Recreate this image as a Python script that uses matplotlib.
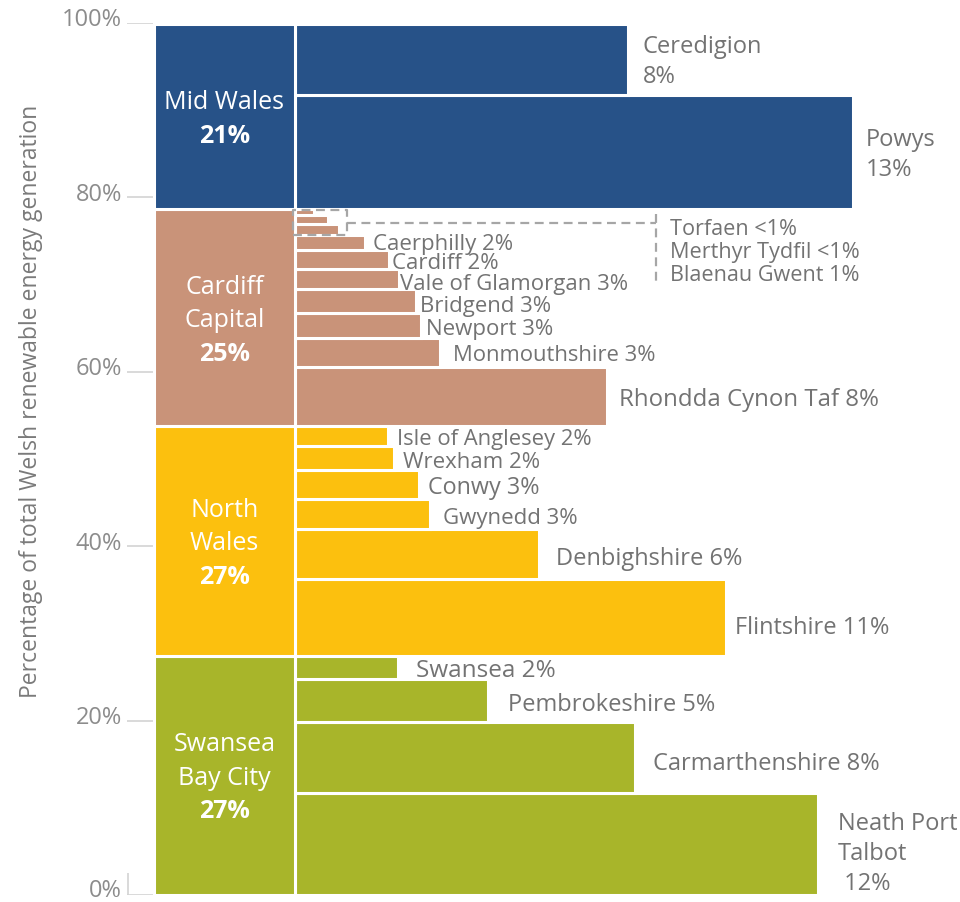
import matplotlib
matplotlib.use("Agg")
import matplotlib.pyplot as plt

plt.rcParams['font.family'] = ['Open Sans', 'DejaVu Sans']

# ---------------- data ----------------
region_names = ["Swansea Bay City", "North Wales", "Cardiff Capital", "Mid Wales"]
region_text_lines = [["Swansea", "Bay City"], ["North", "Wales"], ["Cardiff", "Capital"], ["Mid Wales"]]
region_pct_text = ["27%", "27%", "25%", "21%"]
region_colors = ["#a8b52a", "#fcc00e", "#c99379", "#275288"]

# counties listed bottom -> top within each region
# heights = band height, lengths = bar length
swansea_counties = ["Neath Port Talbot", "Carmarthenshire", "Pembrokeshire", "Swansea"]
swansea_heights = [11.7, 8.1, 4.9, 2.7]
swansea_lengths = [12.36, 8.04, 4.56, 2.43]
swansea_labels = ["Neath Port\nTalbot\n 12%", "Carmarthenshire 8%", "Pembrokeshire 5%", "Swansea 2%"]

north_counties = ["Flintshire", "Denbighshire", "Gwynedd", "Conwy", "Wrexham", "Isle of Anglesey"]
north_heights = [8.8, 5.7, 3.5, 3.3, 2.75, 2.3]
north_lengths = [10.18, 5.77, 3.19, 2.93, 2.35, 2.19]
north_labels = ["Flintshire 11%", "Denbighshire 6%", "Gwynedd 3%", "Conwy 3%", "Wrexham 2%",
                "Isle of Anglesey 2%"]

cardiff_counties = ["Rhondda Cynon Taf", "Monmouthshire", "Newport", "Bridgend", "Vale of Glamorgan",
                    "Cardiff", "Caerphilly", "Blaenau Gwent", "Merthyr Tydfil", "Torfaen"]
cardiff_heights = [6.76, 3.32, 2.87, 2.75, 2.29, 2.23, 1.72, 1.26, 0.97, 0.69]
cardiff_lengths = [7.38, 3.42, 2.99, 2.87, 2.46, 2.22, 1.65, 1.05, 0.78, 0.45]
cardiff_labels = ["Rhondda Cynon Taf 8%", "Monmouthshire 3%", "Newport 3%", "Bridgend 3%",
                  "Vale of Glamorgan 3%", "Cardiff 2%", "Caerphilly 2%", None, None, None]
callout_labels = ["Torfaen <1%", "Merthyr Tydfil <1%", "Blaenau Gwent 1%"]

mid_counties = ["Powys", "Ceredigion"]
mid_heights = [13.1, 8.1]
mid_lengths = [13.2, 7.87]
mid_labels = ["Powys\n13%", "Ceredigion\n8%"]

group_heights = [swansea_heights, north_heights, cardiff_heights, mid_heights]
group_lengths = [swansea_lengths, north_lengths, cardiff_lengths, mid_lengths]
group_labels = [swansea_labels, north_labels, cardiff_labels, mid_labels]

ytick_values = [0, 20, 40, 60, 80, 100]
ytick_labels = ["0%", "20%", "40%", "60%", "80%", "100%"]
y_title = "Percentage of total Welsh renewable energy generation"

# ---------------- layout (pixels of a 960x903 canvas) ----------------
W, H = 960, 903
PX_X = 42.3      # px per 1 % of bar length
PX_Y = 8.725     # px per 1 % of height
X0 = 295         # bar origin px
Y0 = 896         # 0 % px
AX_LEFT = 127
BLOCK_LEFT = 154
label_pad_px = [[20, 18, 20, 18],
                [9, 17, 13, 9, 9, 9],
                [12, 13, 5, 4, 1, 3, 8, 0, 0, 0],
                [12, 15]]
label_down_px = [[9, 5, 3, 2],
                 [9, 4, 3, 3, 3, 2],
                 [2, 2, 3, 4, 4, 3, 1, 0, 0, 0],
                 [2, 2]]
label_fs = [[17, 17, 17, 17.5],
            [17, 17, 16, 16.8, 16, 15.8],
            [17.3, 15.8, 16, 15.9, 16, 16, 16, 0, 0, 0],
            [17, 17]]
tick_up_px = [5, 3, 3, 3, 3, 3]
LINE_PX = 30
TEXT_COLOR = "#737373"
CALLOUT_FS = 15.6


def dx(px):
    return px / PX_X


def dy(px):
    return px / PX_Y


fig = plt.figure(figsize=(W / 100, H / 100), dpi=100)
ax = fig.add_axes([AX_LEFT / W, (H - Y0) / H, (W - AX_LEFT) / W, 100 * PX_Y / H])
xmin = dx(AX_LEFT - X0)
xmax = dx(W - X0)
ax.set_xlim(xmin, xmax)
ax.set_ylim(0, 100)
ax.axis("off")

# tick labels
for v, t, up in zip(ytick_values, ytick_labels, tick_up_px):
    ax.text(xmin - dx(5), v + dy(up), t, ha="right", va="center", fontsize=17,
            color="#8c8c8c", clip_on=False)

# gridlines behind bars
ax.hlines(ytick_values, xmin, dx(318 - X0), color="#d3d3d3", lw=1.2, zorder=0)
ax.vlines(xmin + dx(0.5), 0, dy(22), color="#d3d3d3", lw=1.2, zorder=0)

EDGE_LW = 2.2


def draw_multiline(x, yc, text, color, fs, weight="normal", ha="left", spacing=LINE_PX):
    lines = text.split("\n")
    n = len(lines)
    for i, line in enumerate(lines):
        off = ((n - 1) / 2 - i) * spacing
        ax.text(x, yc + dy(off), line, ha=ha, va="center", fontsize=fs,
                color=color, fontweight=weight, zorder=5)


base = 0.0
callout_rows = []
for gi, (hs, ls, labs) in enumerate(zip(group_heights, group_lengths, group_labels)):
    gstart = base
    color = region_colors[gi]
    for vi, (h, L, lab) in enumerate(zip(hs, ls, labs)):
        ax.bar(0, h, width=L, bottom=base, align="edge", color=color,
               edgecolor="white", linewidth=EDGE_LW, zorder=2)
        if lab is not None:
            draw_multiline(L + dx(label_pad_px[gi][vi]),
                           base + h / 2 - dy(label_down_px[gi][vi]),
                           lab, TEXT_COLOR, label_fs[gi][vi])
        else:
            callout_rows.append((base, h))
        base += h
    gtotal = base - gstart
    # region block
    ax.bar(dx(BLOCK_LEFT - X0), gtotal, width=-dx(BLOCK_LEFT - X0), bottom=gstart, align="edge",
           color=color, edgecolor="white", linewidth=EDGE_LW, zorder=2)
    xc = dx(BLOCK_LEFT - X0) / 2
    lines = region_text_lines[gi] + [region_pct_text[gi]]
    n = len(lines)
    yc = gstart + gtotal / 2 - dy(2)
    for i, line in enumerate(lines):
        off = ((n - 1) / 2 - i) * 33.5
        ax.text(xc, yc + dy(off), line, ha="center", va="center", fontsize=18,
                color="white", fontweight=("bold" if i == n - 1 else "normal"), zorder=5)

# dashed callout for the three smallest bars
cb = min(r[0] for r in callout_rows)
ct = max(r[0] + r[1] for r in callout_rows)
dash_kw = dict(color="#a6a6a6", lw=1.6, ls=(0, (4, 2.5)), zorder=4, clip_on=False)
rx0, rx1 = dx(-2), dx(347 - X0)
ax.plot([rx0, rx1, rx1, rx0, rx0], [cb, cb, ct - dy(1), ct - dy(1), cb], **dash_kw)
ymid = ct - dy(14)
vx = dx(656 - X0)
ax.plot([rx1, vx], [ymid, ymid], **dash_kw)
ax.plot([vx, vx], [ct - dy(5), ct - dy(74)], **dash_kw)
for i, lab in enumerate(callout_labels):
    ax.text(dx(670 - X0), ct - dy(19) - dy(23 * i), lab, ha="left", va="center",
            fontsize=CALLOUT_FS, color=TEXT_COLOR, zorder=5)

fig.text(31 / W, 1 - 401 / H, y_title, rotation=90, ha="center", va="center",
         fontsize=16.5, color="#7a7a7a")

fig.savefig("out.png", dpi=100, facecolor="white")
